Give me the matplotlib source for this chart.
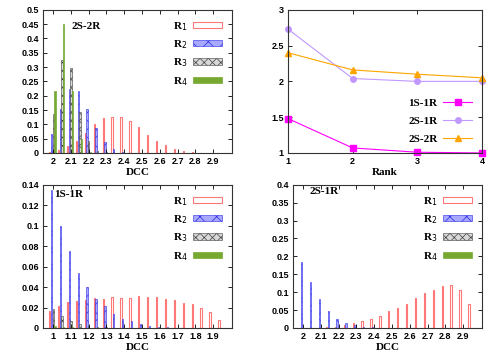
import matplotlib
matplotlib.use("Agg")
import matplotlib.pyplot as plt
import numpy as np
from matplotlib.patches import Patch

# --- data -------------------------------------------------------------
# 2S-2R distribution (bins of 0.05 starting at 2.0)
dcc_2s2r = [2.0, 2.05, 2.1, 2.15, 2.2, 2.25, 2.3, 2.35, 2.4, 2.45, 2.5,
            2.55, 2.6, 2.65, 2.7, 2.75, 2.8, 2.85, 2.9]
r1_2s2r = [0.005, 0.012, 0.025, 0.043, 0.07, 0.1, 0.122, 0.127, 0.127, 0.112,
           0.092, 0.062, 0.042, 0.028, 0.015, 0.008, 0.004, 0.001, 0.0]
r2_2s2r = [0.065, 0.152, 0.225, 0.217, 0.155, 0.088, 0.037, 0.015, 0.005, 0.001,
           0, 0, 0, 0, 0, 0, 0, 0, 0]
r3_2s2r = [0.135, 0.325, 0.295, 0.142, 0.04, 0.008, 0.002, 0, 0, 0,
           0, 0, 0, 0, 0, 0, 0, 0, 0]
r4_2s2r = [0.215, 0.452, 0.215, 0.05, 0.005, 0, 0, 0, 0, 0,
           0, 0, 0, 0, 0, 0, 0, 0, 0]

# 1S-1R distribution
dcc_1s1r = [1.0, 1.05, 1.1, 1.15, 1.2, 1.25, 1.3, 1.35, 1.4, 1.45,
            1.5, 1.55, 1.6, 1.65, 1.7, 1.75, 1.8, 1.85, 1.9, 1.95]
r1_1s1r = [0.017, 0.021, 0.025, 0.026, 0.027, 0.029, 0.028, 0.030, 0.029, 0.029,
           0.031, 0.030, 0.030, 0.028, 0.027, 0.024, 0.023, 0.020, 0.016, 0.008]
r2_1s1r = [0.135, 0.100, 0.075, 0.054, 0.040, 0.028, 0.021, 0.014, 0.009, 0.007,
           0.004, 0.002, 0.001, 0.001, 0, 0, 0, 0, 0, 0]
r3_1s1r = [0.019, 0.012, 0.007, 0.004, 0.002, 0.001, 0.001, 0, 0, 0,
           0, 0, 0, 0, 0, 0, 0, 0, 0, 0]
r4_1s1r = [0.002, 0.001, 0.0005, 0, 0, 0, 0, 0, 0, 0,
           0, 0, 0, 0, 0, 0, 0, 0, 0, 0]

# 2S-1R distribution
dcc_2s1r = [2.0, 2.05, 2.1, 2.15, 2.2, 2.25, 2.3, 2.35, 2.4, 2.45,
            2.5, 2.55, 2.6, 2.65, 2.7, 2.75, 2.8, 2.85, 2.9, 2.95]
r1_2s1r = [0, 0, 0, 0.002, 0.004, 0.008, 0.013, 0.019, 0.026, 0.034,
           0.046, 0.056, 0.067, 0.083, 0.097, 0.106, 0.117, 0.120, 0.106, 0.067]
r2_2s1r = [0.183, 0.128, 0.082, 0.048, 0.026, 0.014, 0.007, 0.003, 0.002, 0,
           0, 0, 0, 0, 0, 0, 0, 0, 0, 0]
r3_2s1r = [0] * 20
r4_2s1r = [0] * 20

# rank plot
ranks = [1, 2, 3, 4]
rank_1s1r = [1.48, 1.07, 1.01, 1.0]
rank_2s1r = [2.73, 2.04, 2.0, 2.0]
rank_2s2r = [2.4, 2.16, 2.1, 2.05]

# --- styling ----------------------------------------------------------
TICK_FONT = dict(family="Liberation Sans", weight="bold", size=6.5)
LABEL_FONT = dict(family="Liberation Serif", weight="bold", size=8)
LEG_FONT = dict(family="Liberation Serif", weight="bold", size=8)

bar_styles = [
    dict(facecolor="white", edgecolor="#ff7878", linewidth=0.8),
    dict(facecolor="#a8a8ff", edgecolor="#2828e8", hatch="xx", linewidth=0.4),
    dict(facecolor="#d8d8d8", edgecolor="#404040", hatch="xxxx", linewidth=0.4),
    dict(facecolor="#76a832", edgecolor="#76a832", linewidth=0.5),
]
offsets = np.array([-0.0175, -0.008, 0.0015, 0.011])
bar_w = 0.0072

plt.rcParams["hatch.linewidth"] = 0.5

fig = plt.figure(figsize=(5, 3.5), dpi=100)


def style_axes(ax):
    ax.tick_params(direction="in", top=True, right=True, length=3, width=0.6,
                   pad=3)
    for lab in ax.get_xticklabels() + ax.get_yticklabels():
        lab.set_fontfamily(TICK_FONT["family"])
        lab.set_fontweight(TICK_FONT["weight"])
        lab.set_fontsize(TICK_FONT["size"])
    for sp in ax.spines.values():
        sp.set_linewidth(0.8)
        sp.set_color("#333333")


def hist_panel(rect, bins, series, title, title_pos, xlim, xticks, yticks):
    ax = fig.add_axes(rect)
    bins = np.array(bins)
    for vals, off, st in zip(series, offsets, bar_styles):
        ax.bar(bins + off, vals, width=bar_w, align="center", **st)
    ax.set_xlim(*xlim)
    ax.set_ylim(yticks[0], yticks[-1])
    ax.set_xticks(xticks)
    ax.set_xticklabels([f"{t:g}" for t in xticks])
    ax.set_yticks(yticks)
    ax.set_yticklabels([f"{t:g}" for t in yticks])
    ax.set_xlabel("DCC", labelpad=1, **LABEL_FONT)
    ax.text(title_pos[0], title_pos[1], title, transform=ax.transAxes,
            ha="left", va="center", **LABEL_FONT)
    handles = [Patch(**st) for st in bar_styles]
    labels = ["R$_1$", "R$_2$", "R$_3$", "R$_4$"]
    ax.legend(handles, labels, loc="upper right", frameon=False,
              markerfirst=False, handlelength=2.6, handleheight=0.5,
              labelspacing=0.5, borderaxespad=0.5, handletextpad=0.5,
              prop=LEG_FONT)
    style_axes(ax)
    return ax


hist_panel([0.086, 0.563, 0.378, 0.409], dcc_2s2r,
           [r1_2s2r, r2_2s2r, r3_2s2r, r4_2s2r], "2S-2R", (0.15, 0.88),
           (1.944, 3.006), np.round(np.arange(2.0, 2.95, 0.1), 1),
           np.round(np.arange(0, 0.51, 0.05), 2))

hist_panel([0.086, 0.063, 0.378, 0.409], dcc_1s1r,
           [r1_1s1r, r2_1s1r, r3_1s1r, r4_1s1r], "1S-1R", (0.06, 0.935),
           (0.944, 2.006), np.round(np.arange(1.0, 1.95, 0.1), 1),
           np.round(np.arange(0, 0.141, 0.02), 2))

hist_panel([0.586, 0.063, 0.378, 0.409], dcc_2s1r,
           [r1_2s1r, r2_2s1r, r3_2s1r, r4_2s1r], "2S-1R", (0.085, 0.95),
           (1.944, 3.006), np.round(np.arange(2.0, 2.95, 0.1), 1),
           np.round(np.arange(0, 0.41, 0.05), 2))

# --- rank panel --------------------------------------------------------
ax = fig.add_axes([0.576, 0.563, 0.388, 0.409])
ax.plot(ranks, rank_1s1r, color="#ff00ff", lw=0.8, marker="s", ms=4,
        label="1S-1R")
ax.plot(ranks, rank_2s1r, color="#c098ff", lw=0.8, marker="o", ms=4,
        label="2S-1R")
ax.plot(ranks, rank_2s2r, color="#ffa500", lw=0.8, marker="^", ms=4,
        label="2S-2R")
ax.set_xlim(1, 4)
ax.set_ylim(1, 3)
ax.set_xticks(ranks)
ax.set_yticks([1, 1.5, 2, 2.5, 3])
ax.set_yticklabels(["1", "1.5", "2", "2.5", "3"])
ax.set_xlabel("Rank", labelpad=1, **LABEL_FONT)
ax.legend(loc="lower right", frameon=False, markerfirst=False,
          handlelength=2.6, labelspacing=0.75, borderaxespad=0.5,
          handletextpad=0.5, bbox_to_anchor=(1.0, -0.01), prop=LEG_FONT)
for line in ax.lines:
    line.set_clip_on(False)
style_axes(ax)

fig.savefig("out.png", dpi=100)
